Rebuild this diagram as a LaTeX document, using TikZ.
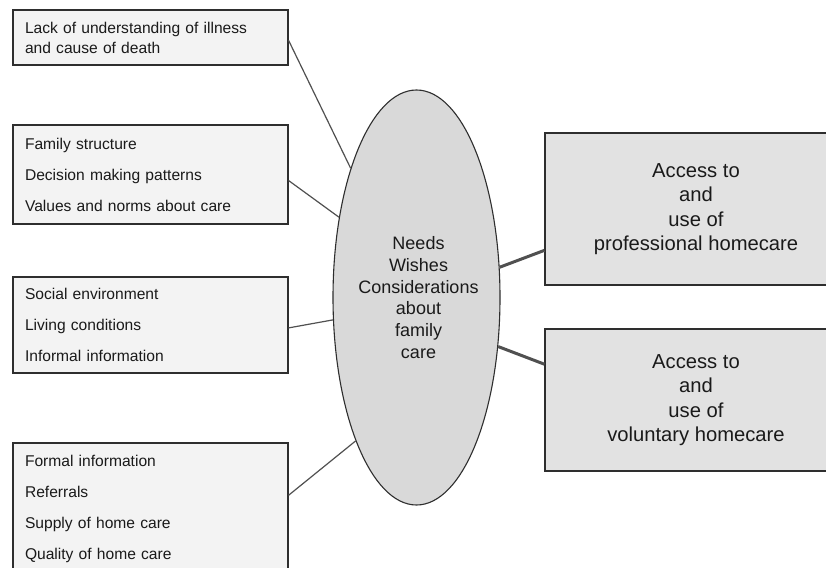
\documentclass[tikz,border=0pt]{standalone}
\usepackage{fontspec}
\setmainfont{Liberation Sans}
\usetikzlibrary{shapes.geometric,calc}
\definecolor{lfill}{HTML}{F3F3F3}
\definecolor{rfill}{HTML}{E2E2E2}
\definecolor{efill}{HTML}{D9D9D9}
\definecolor{edge}{HTML}{2E2E2E}
\definecolor{conn}{HTML}{505050}
\definecolor{ink}{HTML}{1A1A1A}
\begin{document}
\begin{tikzpicture}[x=1pt,y=-1pt,
  lbox/.style={draw=edge, line width=1.1pt, fill=lfill, minimum width=275pt,
    text width=251pt, inner xsep=12pt, align=left, text=ink,
    font=\fontsize{15.6}{31}\selectfont},
  rbox/.style={draw=edge, line width=1.1pt, fill=rfill, minimum width=302pt,
    align=center, text=ink, font=\fontsize{20.2}{24.5}\selectfont},
  thin/.style={draw=conn, line width=1.2pt},
  thick/.style={draw=conn, line width=3pt}]
\useasboundingbox (0,0) rectangle (826,567);
\clip (0,0) rectangle (826,567);
\fill[white] (0,0) rectangle (826,567);
% left boxes
\node[lbox, minimum height=55pt, font=\fontsize{15.6}{20}\selectfont] (b1) at (150.5,37.5)
  {Lack of understanding of illness\\and cause of death};
\node[lbox, minimum height=99pt] (b2) at (150.5,174.5)
  {Family structure\\Decision making patterns\\Values and norms about care};
\node[lbox, minimum height=96pt] (b3) at (150.5,325)
  {Social environment\\Living conditions\\Informal information};
\node[lbox, minimum height=131pt] (b4) at (150.5,508.5)
  {Formal information\\Referrals\\Supply of home care\\Quality of home care};
% ellipse
\node[ellipse, draw=edge, line width=1.1pt, fill=efill, minimum width=167pt,
  minimum height=415pt, inner sep=0pt] (ell) at (416.5,297.5) {};
\node[align=center, text=ink, font=\fontsize{18}{21.7}\selectfont] (etext) at (418.5,297.5)
  {Needs\\Wishes\\Considerations\\about\\family\\care};
% right boxes
\node[rbox, minimum height=152pt] (ra) at (696,209)
  {Access to\\and\\use of\\professional homecare};
\node[rbox, minimum height=142pt] (rb) at (696,400)
  {Access to\\and\\use of\\voluntary homecare};
% connectors
\draw[thin] ($(b1.north east)!0.55!(b1.south east)$) -- (ell.117);
\draw[thin] ($(b2.north east)!0.56!(b2.south east)$) -- (ell.134.6);
\draw[thin] ($(b3.north east)!0.53!(b3.south east)$) -- (ell.195);
\draw[thin] ($(b4.north east)!0.40!(b4.south east)$) -- (ell.247.6);
\draw[thick] (ell.20) -- ($(ra.north west)!0.77!(ra.south west)$);
\draw[thick] (ell.-31) -- ($(rb.north west)!0.25!(rb.south west)$);
\end{tikzpicture}
\end{document}
